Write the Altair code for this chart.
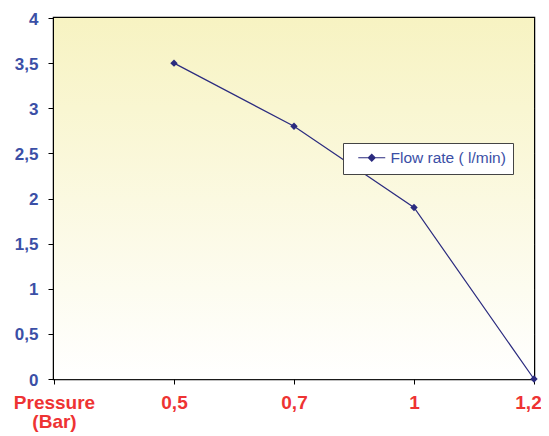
import altair as alt
import pandas as pd

categories = ["Pressure (Bar)", "0,5", "0,7", "1", "1,2"]
flow_rate = [None, 3.5, 2.8, 1.9, 0.0]
series_name = "Flow rate ( l/min)"
y_ticks = [0, 0.5, 1, 1.5, 2, 2.5, 3, 3.5, 4]

df = pd.DataFrame({"pressure": categories, "flow": flow_rate, "series": series_name})
pts = df.dropna()

FONT = "Liberation Sans"
NAVY = "#2B2B7F"
BLUE = "#3B4FA6"
RED = "#EE3333"

x_enc = alt.X(
    "pressure:O",
    sort=categories,
    scale=alt.Scale(type="point", domain=categories, padding=0),
    axis=alt.Axis(
        title=None,
        labelAngle=0,
        labelFont=FONT,
        labelFontSize=19,
        labelFontWeight="bold",
        labelColor=RED,
        labelPadding=9,
        labelLineHeight=19,
        labelOffset={"condition": {"test": "datum.label == '1,2'", "value": -6}, "value": 0},
        labelExpr="datum.label == 'Pressure (Bar)' ? ['Pressure', '(Bar)'] : datum.label",
        tickColor="black",
        tickSize=5,
        domain=False,
        grid=False,
        labelOverlap=False,
    ),
)
y_enc = alt.Y(
    "flow:Q",
    scale=alt.Scale(domain=[0, 4], nice=False),
    axis=alt.Axis(
        title=None,
        values=y_ticks,
        labelFont=FONT,
        labelFontSize=17,
        labelFontWeight="bold",
        labelColor=BLUE,
        labelPadding=10,
        labelOffset=1,
        labelExpr="replace(toString(datum.value), '.', ',')",
        tickColor="black",
        tickSize=6,
        domain=False,
        grid=True,
        gridColor="#1a1a1a",
        gridWidth=1,
        gridOpacity=1,
    ),
)
color_enc = alt.Color(
    "series:N",
    scale=alt.Scale(range=[NAVY]),
    legend=alt.Legend(
        title=None,
        orient="none",
        legendX=289,
        legendY=125,
        fillColor="white",
        strokeColor="#444444",
        padding=7,
        cornerRadius=0,
        labelFont=FONT,
        labelFontSize=15.5,
        labelColor=BLUE,
        symbolType="M-2,0L2,0M-0.5,0L0,-0.5L0.5,0L0,0.5Z",
        symbolSize=182,
        symbolStrokeColor=NAVY,
        symbolFillColor=NAVY,
        symbolStrokeWidth=1.2,
        symbolOffset=14,
        labelOffset=11,
    ),
)

bg = alt.Chart(pd.DataFrame({"a": [0]})).mark_rect(
    color={
        "gradient": "linear",
        "x1": 0, "y1": 0, "x2": 0, "y2": 1,
        "stops": [
            {"offset": 0, "color": "#F7F3C2"},
            {"offset": 1, "color": "#FFFFFF"},
        ],
    }
).encode(
    x=alt.value(0), x2=alt.value("width"), y=alt.value(0), y2=alt.value("height")
)

line = alt.Chart(pts).mark_line(strokeWidth=1.2).encode(x=x_enc, y=y_enc, color=color_enc)
points = alt.Chart(pts).mark_point(shape="diamond", filled=True, size=55, opacity=1).encode(
    x=x_enc, y=y_enc, color=color_enc
)

chart = alt.layer(bg, line, points).properties(
    width=480,
    height=361,
    autosize=alt.AutoSizeParams(type="none"),
    padding={"left": 46, "top": 10, "right": 7, "bottom": 53},
    background="white",
).configure_view(stroke="black", strokeWidth=2.5)

chart.save("out.html", embed_options={"renderer": "svg", "actions": False})
